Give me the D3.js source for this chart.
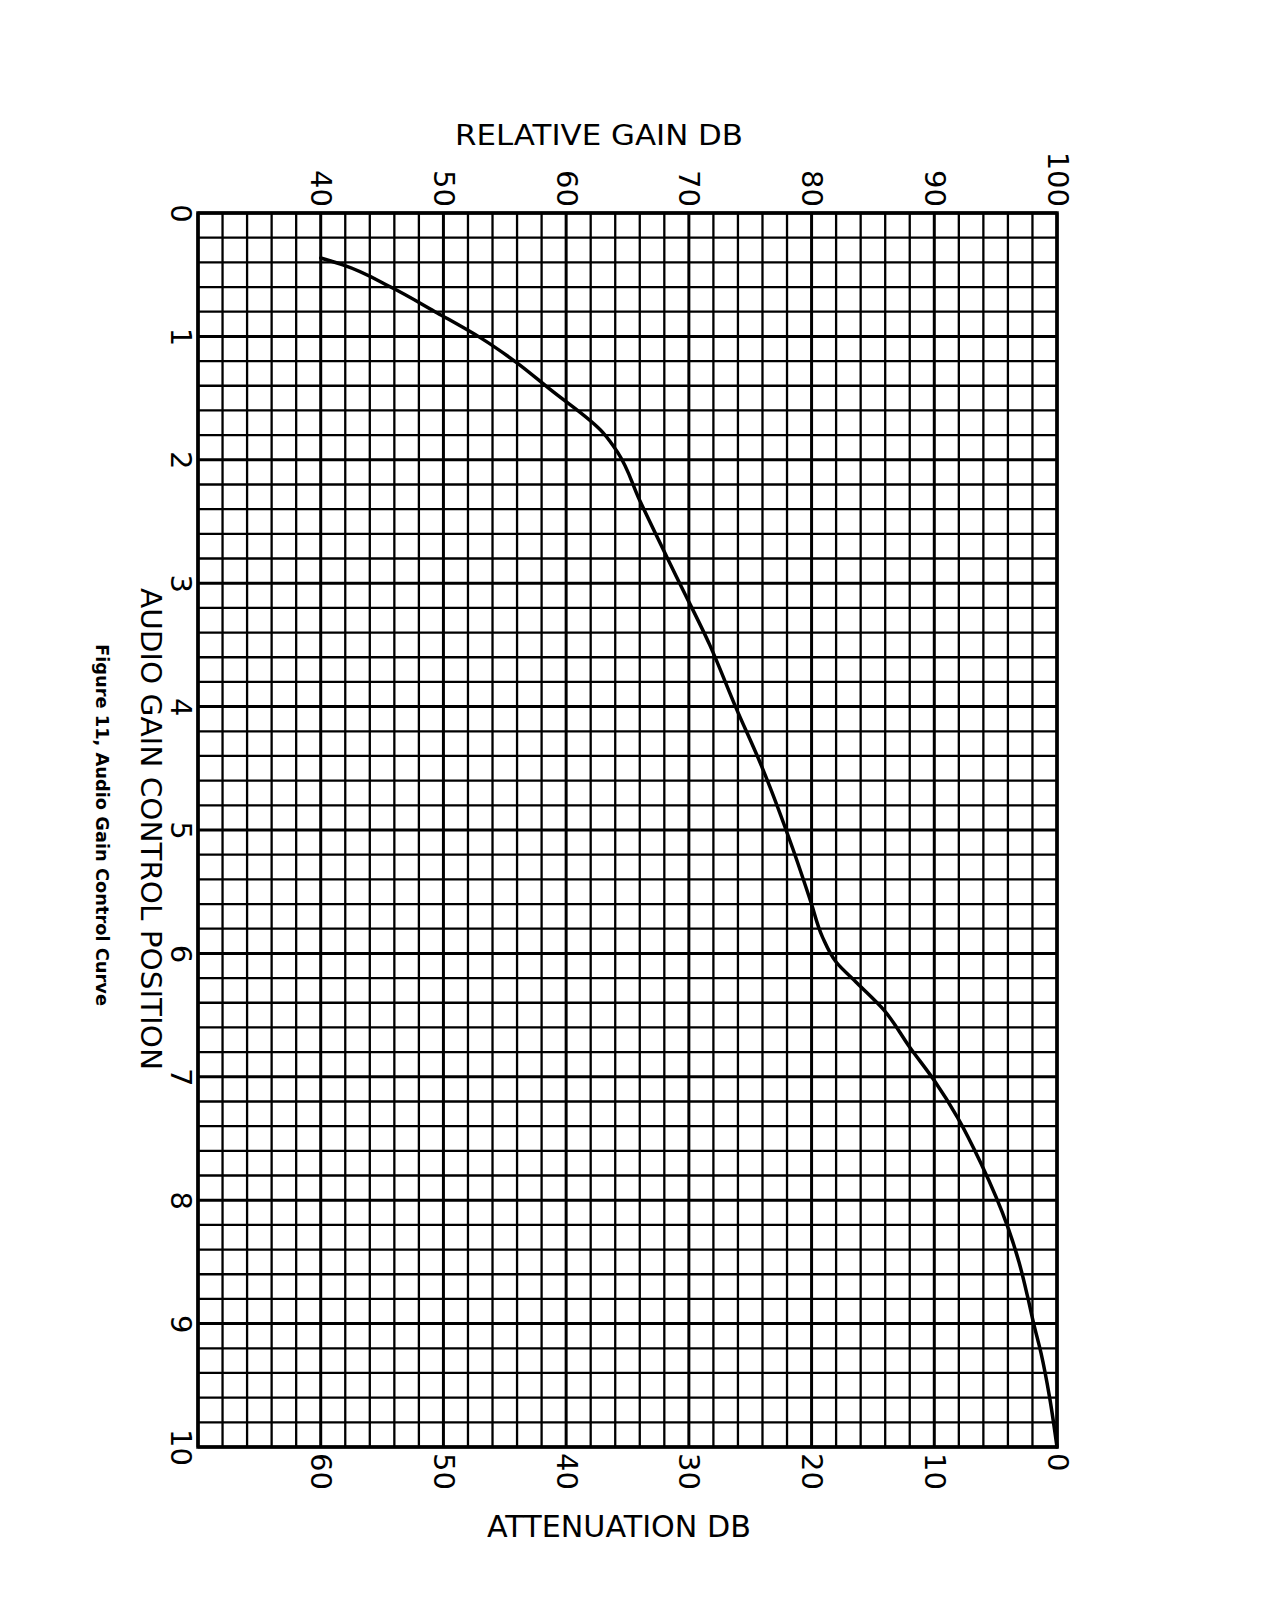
<!DOCTYPE html>
<html>
<head>
<meta charset="utf-8">
<script src="https://cdn.jsdelivr.net/npm/d3@7"></script>
<style>
  html, body { margin: 0; padding: 0; background: #ffffff; }
  svg { display: block; }
  text { font-family: "DejaVu Sans", "Liberation Sans", sans-serif; fill: #000; }
</style>
</head>
<body>
<svg id="chart" width="1269" height="1614"></svg>
<script>
// ---- data ----
const positionTicks = [0, 1, 2, 3, 4, 5, 6, 7, 8, 9, 10];
const gainTicks = [40, 50, 60, 70, 80, 90, 100];
const attenuationTicks = [60, 50, 40, 30, 20, 10, 0];

// Audio gain control position (0-10) vs relative gain (dB)
const curvePosition = [0.365, 0.42, 0.60, 0.81, 1.01, 1.20, 1.43, 1.78, 1.94, 2.33, 2.97, 3.50, 4.00, 4.50,
                       5.16, 5.57, 5.87, 6.07, 6.24, 6.46, 6.76, 7.03, 7.33, 7.70, 8.22, 8.50, 8.78, 9.00, 9.24, 9.60, 10.0];
const curveGain     = [40.0, 41.8, 45.7, 49.5, 53.0, 55.8, 58.7, 63.0, 64.2, 66.0, 69.1, 71.7, 73.8, 76.0,
                       78.5, 79.9, 80.9, 82.0, 83.7, 85.9, 88.0, 90.0, 91.9, 93.8, 96.0, 96.9, 97.6, 98.1, 98.7, 99.4, 100.0];

const titleTop = "RELATIVE GAIN DB";
const titleBottom = "ATTENUATION DB";
const titleLeft = "AUDIO GAIN CONTROL POSITION";
const caption = "Figure 11, Audio Gain Control Curve";

// ---- layout ----
const L = 198, R = 1057, T = 213, B = 1447;
const svg = d3.select("#chart");

const x = d3.scaleLinear().domain([30, 100]).range([L, R]);      // relative gain
const xAtt = d3.scaleLinear().domain([70, 0]).range([L, R]);     // attenuation
const y = d3.scaleLinear().domain([0, 10]).range([T, B]);        // control position

// ---- grid ----
const grid = svg.append("g").attr("class", "grid");
const vLines = d3.range(30, 100.001, 2);
const hLines = d3.range(0, 50.001, 1).map(d => d / 5);

grid.selectAll("line.v").data(vLines).join("line")
  .attr("class", "v")
  .attr("x1", d => x(d)).attr("x2", d => x(d))
  .attr("y1", T).attr("y2", B)
  .attr("stroke", "#000")
  .attr("stroke-width", d => (Math.abs(d % 10) < 1e-6) ? 3 : 2.3);

grid.selectAll("line.h").data(hLines).join("line")
  .attr("class", "h")
  .attr("x1", L).attr("x2", R)
  .attr("y1", d => y(d)).attr("y2", d => y(d))
  .attr("stroke", "#000")
  .attr("stroke-width", d => (Math.abs(d - Math.round(d)) < 1e-6) ? 3 : 2.3);

svg.append("rect")
  .attr("x", L).attr("y", T).attr("width", R - L).attr("height", B - T)
  .attr("fill", "none").attr("stroke", "#000").attr("stroke-width", 3.5);

// ---- curve ----
const pts = curvePosition.map((p, i) => [curveGain[i], p]);
const line = d3.line()
  .x(d => x(d[0]))
  .y(d => y(d[1]))
  .curve(d3.curveMonotoneY);
svg.append("path")
  .datum(pts)
  .attr("d", line)
  .attr("fill", "none")
  .attr("stroke", "#000")
  .attr("stroke-width", 3.5)
  .attr("stroke-linejoin", "round")
  .attr("stroke-linecap", "round");

// ---- axes ----
const tickFont = 29;

const topAxis = svg.append("g").attr("transform", `translate(0,${T})`)
  .call(d3.axisTop(x).tickValues(gainTicks).tickSize(0).tickPadding(0));
topAxis.select(".domain").remove();
topAxis.selectAll("text")
  .attr("x", null).attr("y", null).attr("dy", null)
  .attr("text-anchor", "end")
  .attr("font-size", tickFont)
  .attr("font-family", "DejaVu Sans, sans-serif")
  .attr("transform", "translate(-10,-6) rotate(90)");

const bottomAxis = svg.append("g").attr("transform", `translate(0,${B})`)
  .call(d3.axisBottom(xAtt).tickValues(attenuationTicks).tickSize(0).tickPadding(0));
bottomAxis.select(".domain").remove();
bottomAxis.selectAll("text")
  .attr("x", null).attr("y", null).attr("dy", null)
  .attr("text-anchor", "start")
  .attr("font-size", tickFont)
  .attr("font-family", "DejaVu Sans, sans-serif")
  .attr("transform", "translate(-10,6) rotate(90)");

const leftAxis = svg.append("g").attr("transform", `translate(${L},0)`)
  .call(d3.axisLeft(y).tickValues(positionTicks).tickSize(0).tickPadding(0));
leftAxis.select(".domain").remove();
leftAxis.selectAll("text")
  .attr("x", null).attr("y", null).attr("dy", null)
  .attr("text-anchor", "middle")
  .attr("font-size", tickFont)
  .attr("font-family", "DejaVu Sans, sans-serif")
  .attr("transform", "translate(-27,0) rotate(90)");

// ---- titles ----
svg.append("text")
  .attr("x", 599).attr("y", 145)
  .attr("text-anchor", "middle")
  .attr("font-size", 29)
  .attr("textLength", 288).attr("lengthAdjust", "spacingAndGlyphs")
  .text(titleTop);

svg.append("text")
  .attr("x", 619).attr("y", 1537)
  .attr("text-anchor", "middle")
  .attr("font-size", 31)
  .attr("textLength", 264).attr("lengthAdjust", "spacingAndGlyphs")
  .text(titleBottom);

svg.append("text")
  .attr("transform", "translate(141,829) rotate(90)")
  .attr("text-anchor", "middle")
  .attr("font-size", 28)
  .attr("textLength", 482).attr("lengthAdjust", "spacingAndGlyphs")
  .text(titleLeft);

svg.append("text")
  .attr("transform", "translate(96,825) rotate(90)")
  .attr("text-anchor", "middle")
  .attr("font-size", 18)
  .attr("font-weight", "bold")
  .attr("font-family", "DejaVu Sans Condensed, DejaVu Sans, sans-serif")
  .attr("textLength", 362).attr("lengthAdjust", "spacingAndGlyphs")
  .text(caption);
</script>
</body>
</html>
